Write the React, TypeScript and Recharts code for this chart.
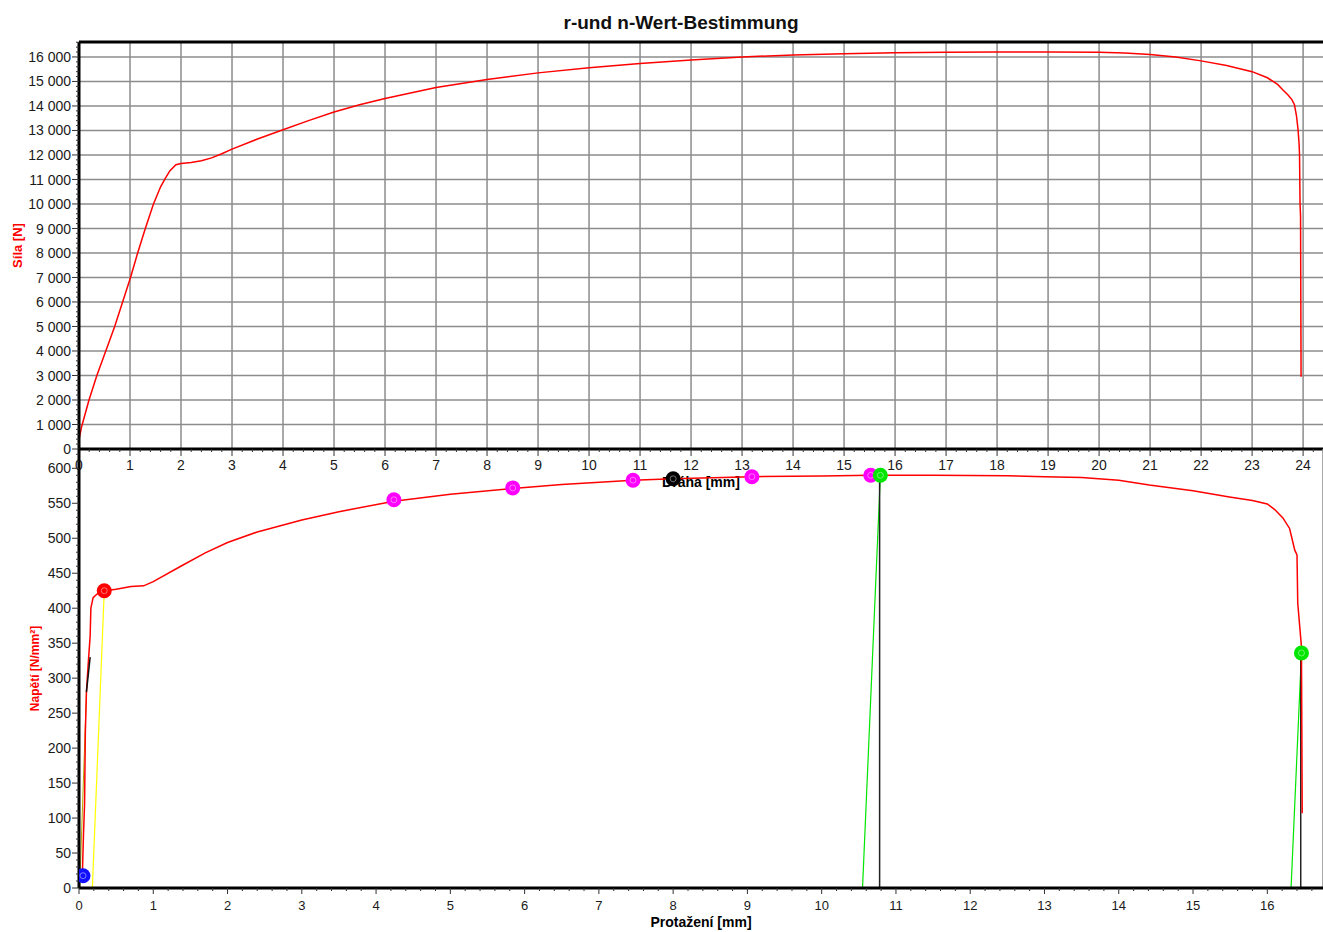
import React from 'react';
import { ComposedChart, Line, Scatter, XAxis, YAxis, CartesianGrid, ReferenceLine } from 'recharts';

const FONT = '"Liberation Sans", Arial, Helvetica, sans-serif';
const W = 1323;

// upper plot: Síla [N] over Dráha [mm]
const drahaMm = [0, 0.05, 0.196, 0.35, 0.7, 1.01, 1.15, 1.3, 1.46, 1.6, 1.68, 1.78, 1.9, 2.0, 2.2, 2.4, 2.6, 2.8, 3.0, 3.5, 4.0, 4.5, 5.0, 5.5, 6.0, 7.0, 8.0, 9.0, 10.0, 11.0, 12.0, 13.0, 14.0, 15.0, 16.0, 17.0, 18.0, 19.0, 20.0, 20.5, 21.0, 21.5, 22.0, 22.5, 23.0, 23.3, 23.5, 23.6, 23.7, 23.78, 23.83, 23.87, 23.9, 23.92, 23.93, 23.94, 23.95, 23.96];
const silaN = [370, 900, 2000, 3000, 5000, 7000, 8000, 9000, 10000, 10700, 11000, 11350, 11600, 11650, 11690, 11760, 11880, 12050, 12240, 12650, 13030, 13400, 13750, 14050, 14300, 14750, 15080, 15350, 15560, 15730, 15880, 16000, 16080, 16130, 16170, 16190, 16200, 16200, 16190, 16160, 16100, 16000, 15840, 15650, 15400, 15150, 14880, 14660, 14460, 14260, 14050, 13600, 13050, 12500, 12000, 10000, 9500, 2950];

// lower plot: Napětí [N/mm²] over Protažení [mm]
const protazeniMm = [0.045, 0.05, 0.06, 0.075, 0.085, 0.1, 0.13, 0.15, 0.16, 0.19, 0.25, 0.34, 0.5, 0.7, 0.87, 1.0, 1.37, 1.7, 2.0, 2.4, 2.75, 3.0, 3.5, 4.24, 5.0, 5.84, 6.5, 7.46, 8.0, 9.06, 10.0, 10.66, 11.5, 12.5, 13.0, 13.5, 14.0, 14.41, 15.0, 15.49, 15.8, 16.0, 16.1, 16.21, 16.3, 16.37, 16.4, 16.41, 16.46, 16.46, 16.47];
const napetiMpa = [17, 37, 75, 120, 220, 280, 330, 360, 400, 415, 421, 425, 427, 431, 432, 438, 460, 479, 494, 509, 519, 526, 538, 553, 563, 571, 577, 583, 585, 588, 589, 590, 590, 589.5, 588, 587, 583, 576, 568, 559, 554, 549, 541, 529, 514, 483, 476, 407, 345, 336, 107];

// evaluation lines + points
const yellowFit = [{ x: 0.18, y: 0 }, { x: 0.34, y: 425 }];
const oliveFit = [{ x: 0.01, y: 0 }, { x: 0.1, y: 280 }];
const blackFit = [{ x: 0.1, y: 280 }, { x: 0.15, y: 330 }];
const greenFitA = [{ x: 10.55, y: 0 }, { x: 10.79, y: 590 }];
const blackDropA = [{ x: 10.78, y: 0 }, { x: 10.78, y: 590 }];
const greenFitB = [{ x: 16.32, y: 0 }, { x: 16.46, y: 336 }];
const blackDropB = [{ x: 16.45, y: 0 }, { x: 16.45, y: 336 }];

const bluePts = [{ x: 0.054, y: 17.6 }];
const redPts = [{ x: 0.34, y: 425 }];
const pinkPts = [{ x: 4.24, y: 555 }, { x: 5.84, y: 572 }, { x: 7.46, y: 583 }, { x: 9.06, y: 588 }, { x: 10.66, y: 590 }];
const blackPts = [{ x: 8.0, y: 585 }];
const greenPts = [{ x: 10.79, y: 590 }, { x: 16.46, y: 336 }];

const DRAHA_MAX = 24.39;
const SILA_MAX = 16610;
const PROT_MAX = 16.75;
const NAPETI_MAX = 627.6;

const steps = (max: number, step: number) => {
  const out: number[] = [];
  for (let i = 0; i * step <= max + 1e-9; i++) out.push(Math.round(i * step * 1e6) / 1e6);
  return out;
};

const drahaTicks = steps(DRAHA_MAX, 0.2);
const drahaGrid = steps(24, 1);
const silaTicks = steps(SILA_MAX, 200);
const silaGrid = steps(16000, 1000);
const protTicks = steps(PROT_MAX, 0.2);
const napetiTicks = steps(NAPETI_MAX, 10);

const forceData = drahaMm.map((x, i) => ({ x, y: silaN[i] }));
const stressData = protazeniMm.map((x, i) => ({ x, y: napetiMpa[i] }));

const isMajor = (v: number, major: number) => Math.abs(v / major - Math.round(v / major)) < 1e-6;
const thousands = (v: number) => String(v).replace(/\B(?=(\d{3})+(?!\d))/g, ' ');

const LeftTick = ({ x, y, payload, major, size, margin, fmt }: any) => {
  const ax = x + size + margin;
  const m = isMajor(payload.value, major);
  return (
    <g>
      <line x1={ax - (m ? size : 3)} x2={ax} y1={y} y2={y} stroke="#333" strokeWidth={1} />
      {m && (
        <text x={x} y={y} dy="0.36em" textAnchor="end" fontSize={14} fill="#1a1a1a" fontFamily={FONT}>
          {fmt ? fmt(payload.value) : payload.value}
        </text>
      )}
    </g>
  );
};

const BottomTick = ({ x, y, payload, size, margin, fontSize }: any) => {
  const ay = y - size - margin;
  const m = isMajor(payload.value, 1);
  return (
    <g>
      <line x1={x} x2={x} y1={ay} y2={ay + (m ? size : 3)} stroke="#333" strokeWidth={1} />
      {m && (
        <text x={x} y={y} dy="0.71em" textAnchor="middle" fontSize={fontSize} fill="#1a1a1a" fontFamily={FONT}>
          {payload.value}
        </text>
      )}
    </g>
  );
};

const Marker = ({ cx, cy, fill }: any) =>
  cx == null ? null : (
    <g>
      <circle cx={cx} cy={cy} r={7.5} fill={fill} />
      <circle cx={cx} cy={cy} r={3} fill="none" stroke="#fff" strokeOpacity={0.55} strokeWidth={0.8} />
    </g>
  );

const axisLine = { stroke: '#000', strokeWidth: 3 };

export default function App() {
  return (
    <div style={{ position: 'absolute', left: 0, top: 0, width: W, height: 932, background: '#fff', overflow: 'hidden', fontFamily: FONT }}>
      <div style={{ position: 'absolute', left: 0, top: 13, width: 1362, textAlign: 'center', fontSize: 19, lineHeight: '19px', fontWeight: 'bold', color: '#111' }}>
        r-und n-Wert-Bestimmung
      </div>

      <div style={{ position: 'absolute', left: 0, top: 0 }}>
        <ComposedChart width={W} height={491} margin={{ top: 42, right: 0, bottom: 0, left: 0 }}>
          <CartesianGrid stroke="#8c8c8c" strokeWidth={1.5} verticalValues={drahaGrid} horizontalValues={silaGrid} />
          <XAxis
            type="number"
            dataKey="x"
            domain={[0, DRAHA_MAX]}
            allowDataOverflow
            ticks={drahaTicks}
            interval={0}
            height={42}
            tickSize={7}
            tickMargin={4}
            tickLine={false}
            axisLine={axisLine}
            tick={(p: any) => <BottomTick {...p} size={7} margin={4} fontSize={14} />}
            label={{ value: 'Dráha [mm]', position: 'insideBottom', offset: 4, fill: '#000', fontSize: 14, fontWeight: 'bold', fontFamily: FONT }}
          />
          <YAxis
            type="number"
            dataKey="y"
            domain={[0, SILA_MAX]}
            allowDataOverflow
            ticks={silaTicks}
            interval={0}
            width={79}
            tickSize={7}
            tickMargin={1}
            tickLine={false}
            axisLine={axisLine}
            tick={(p: any) => <LeftTick {...p} major={1000} size={7} margin={1} fmt={thousands} />}
            label={{ value: 'Síla [N]', angle: -90, position: 'insideLeft', offset: 17, fill: '#ff0000', fontSize: 13, fontWeight: 'bold', fontFamily: FONT, style: { textAnchor: 'middle' } }}
          />
          <ReferenceLine y={SILA_MAX} stroke="#000" strokeWidth={3} />
          <Line data={forceData} dataKey="y" type="linear" stroke="#ff0000" strokeWidth={1.5} dot={false} isAnimationActive={false} />
        </ComposedChart>
      </div>

      <div style={{ position: 'absolute', left: 0, top: 0 }}>
        <ComposedChart width={W} height={932} margin={{ top: 449, right: 0, bottom: 0, left: 0 }}>
          <XAxis xAxisId="draha" type="number" domain={[0, DRAHA_MAX]} allowDataOverflow ticks={drahaGrid} interval={0} hide />
          <CartesianGrid xAxisId="draha" horizontal={false} stroke="#8c8c8c" strokeWidth={1.5} />
          <XAxis
            type="number"
            dataKey="x"
            domain={[0, PROT_MAX]}
            allowDataOverflow
            ticks={protTicks}
            interval={0}
            height={44}
            tickSize={6}
            tickMargin={7}
            tickLine={false}
            axisLine={axisLine}
            tick={(p: any) => <BottomTick {...p} size={6} margin={7} fontSize={13} />}
            label={{ value: 'Protažení [mm]', position: 'insideBottom', offset: 5, fill: '#000', fontSize: 14, fontWeight: 'bold', fontFamily: FONT }}
          />
          <YAxis
            type="number"
            dataKey="y"
            domain={[0, NAPETI_MAX]}
            allowDataOverflow
            ticks={napetiTicks}
            interval={0}
            width={79}
            tickSize={7}
            tickMargin={1}
            tickLine={false}
            axisLine={axisLine}
            tick={(p: any) => <LeftTick {...p} major={50} size={7} margin={1} />}
            label={{ value: 'Napětí [N/mm²]', angle: -90, position: 'insideLeft', offset: 35, fill: '#ff0000', fontSize: 12, fontWeight: 'bold', fontFamily: FONT, style: { textAnchor: 'middle' } }}
          />
          <Line data={oliveFit} dataKey="y" type="linear" stroke="#b4a800" strokeWidth={1} dot={false} isAnimationActive={false} />
          <Line data={yellowFit} dataKey="y" type="linear" stroke="#ffff00" strokeWidth={1.2} dot={false} isAnimationActive={false} />
          <Line data={greenFitA} dataKey="y" type="linear" stroke="#00e600" strokeWidth={1.2} dot={false} isAnimationActive={false} />
          <Line data={greenFitB} dataKey="y" type="linear" stroke="#00e600" strokeWidth={1.2} dot={false} isAnimationActive={false} />
          <Line data={blackDropA} dataKey="y" type="linear" stroke="#222" strokeWidth={1.5} dot={false} isAnimationActive={false} />
          <Line data={blackDropB} dataKey="y" type="linear" stroke="#222" strokeWidth={1.5} dot={false} isAnimationActive={false} />
          <Line data={stressData} dataKey="y" type="linear" stroke="#ff0000" strokeWidth={1.5} dot={false} isAnimationActive={false} />
          <Line data={blackFit} dataKey="y" type="linear" stroke="#111" strokeWidth={1.5} dot={false} isAnimationActive={false} />
          <Scatter data={bluePts} dataKey="y" fill="#1010ff" isAnimationActive={false} shape={(p: any) => <Marker {...p} />} />
          <Scatter data={redPts} dataKey="y" fill="#ff0000" isAnimationActive={false} shape={(p: any) => <Marker {...p} />} />
          <Scatter data={pinkPts} dataKey="y" fill="#ff00ff" isAnimationActive={false} shape={(p: any) => <Marker {...p} />} />
          <Scatter data={blackPts} dataKey="y" fill="#000" isAnimationActive={false} shape={(p: any) => <Marker {...p} />} />
          <Scatter data={greenPts} dataKey="y" fill="#00e600" isAnimationActive={false} shape={(p: any) => <Marker {...p} />} />
        </ComposedChart>
      </div>
    </div>
  );
}
